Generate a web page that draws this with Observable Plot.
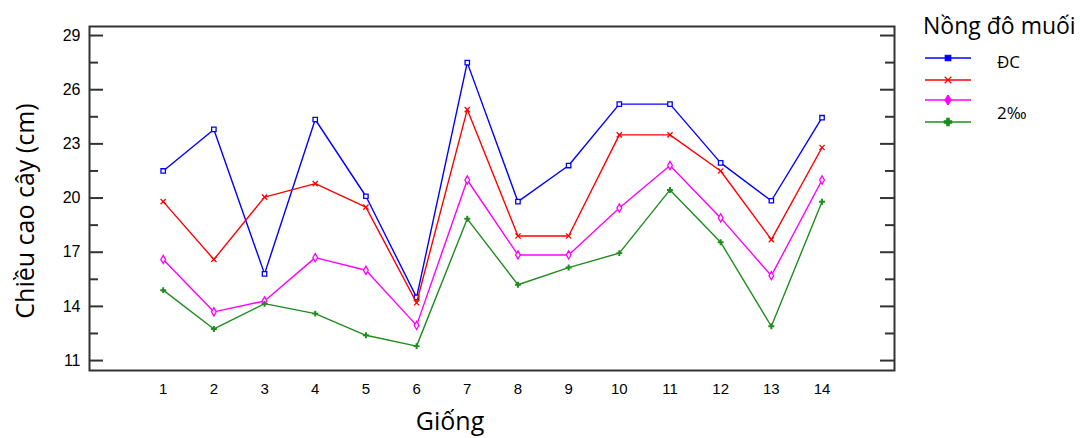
<!DOCTYPE html>
<html><head><meta charset="utf-8">
<script src="https://cdn.jsdelivr.net/npm/d3@7"></script>
<script src="https://cdn.jsdelivr.net/npm/@observablehq/plot@0.6"></script>
<style>
body{margin:0;background:#fff}
#wrap{position:relative;width:1080px;height:438px;overflow:hidden;font-family:"Open Sans",sans-serif;color:#000}
.abs{position:absolute;white-space:nowrap;line-height:1.1}
#ytitle{left:25px;top:211px;font-size:25px;transform:translate(-50%,-50%) rotate(-90deg)}
#xtitle{left:450px;top:421px;font-size:25px;transform:translate(-50%,-50%)}
#ltitle{left:923px;top:13px;font-size:23px}
.lrow{position:absolute;left:924px}
.llab{font-size:17px;transform:translateY(-50%)}
</style>
</head><body><div id="wrap"></div>
<script>
// Data
const giong = [1,2,3,4,5,6,7,8,9,10,11,12,13,14];
const dc    = [21.5,23.8,15.8,24.35,20.1,14.5,27.5,19.8,21.8,25.2,25.2,21.95,19.85,24.45];
const s2    = [19.8,16.6,20.05,20.8,19.5,14.2,24.9,17.9,17.9,23.5,23.5,21.5,17.7,22.8];
const s3    = [16.6,13.7,14.3,16.7,16.0,12.95,21.0,16.85,16.85,19.45,21.8,18.9,15.7,21.0];
const s4    = [14.9,12.75,14.15,13.6,12.4,11.8,18.85,15.2,16.15,16.95,20.45,17.55,12.9,19.8];
const seriesKeys   = ["ĐC","s2","s3","2‰"];
const legendLabels = ["ĐC","","","2‰"];
const legendTitle  = "Nồng đô muối";
const seriesColors = ["#0000ff","#ff0000","#ff00ff","#1e8c1e"];
const seriesSymbols= ["square","times","diamond","cross"];
const yMajor = [11,14,17,20,23,26,29];
const yMinor = [12.5,15.5,18.5,21.5,24.5,27.5];
const xLabel = "Giống";
const yLabel = "Chiều cao cây (cm)";

const values = [dc, s2, s3, s4];
const rows = [];
values.forEach((arr, si) => arr.forEach((v, i) => rows.push({g: giong[i], v, s: si})));

const W = 1080, H = 438, mL = 89, mR = 186, mT = 26, mB = 68;
const innerW = W - mL - mR;
const frameCol = "#333";

const marks = [
  Plot.tickY(yMajor, {y: d => d, insetRight: innerW - 14, stroke: frameCol, strokeWidth: 2}),
  Plot.tickY(yMinor, {y: d => d, insetRight: innerW - 9, stroke: frameCol, strokeWidth: 2}),
  Plot.tickY(yMajor, {y: d => d, insetLeft: innerW - 14, stroke: frameCol, strokeWidth: 2}),
  Plot.tickY(yMinor, {y: d => d, insetLeft: innerW - 9, stroke: frameCol, strokeWidth: 2}),
  Plot.frame({stroke: frameCol, strokeWidth: 2}),
  Plot.axisY({ticks: yMajor, tickSize: 0, tickPadding: 9, label: null, fontSize: 16, stroke: "#000", strokeWidth: 0.25}),
  Plot.axisX({ticks: giong, tickSize: 0, tickPadding: 13, label: null, fontSize: 15, stroke: "#000", strokeWidth: 0.25}),
];
values.forEach((arr, si) => {
  const d = rows.filter(r => r.s === si);
  marks.push(Plot.line(d, {x: "g", y: "v", stroke: seriesColors[si], strokeWidth: 1.4}));
  const sym = seriesSymbols[si];
  const filled = sym === "cross";
  marks.push(Plot.dot(d, {x: "g", y: "v", symbol: () => sym, r: 2.5,
    stroke: filled ? "none" : seriesColors[si], fill: filled ? seriesColors[si] : "white", strokeWidth: 1.3}));
});

const chart = Plot.plot({
  width: W, height: H,
  marginLeft: mL, marginRight: mR, marginTop: mT, marginBottom: mB,
  x: {type: "linear", domain: [-0.454, 15.43]},
  y: {domain: [10.45, 29.5]},
  symbol: {type: "identity"},
  style: {fontFamily: "Liberation Sans, Arial, sans-serif", fontSize: "15px", color: "#000", background: "#fff"},
  marks
});

const wrap = document.getElementById("wrap");
wrap.appendChild(chart);

function addDiv(cls, id, html, styleObj) {
  const el = document.createElement("div");
  el.className = cls; if (id) el.id = id; el.innerHTML = html;
  Object.assign(el.style, styleObj || {});
  wrap.appendChild(el); return el;
}
addDiv("abs", "ytitle", yLabel);
addDiv("abs", "xtitle", xLabel);
addDiv("abs", "ltitle", legendTitle);

// Legend rows
const rowY = [58, 80, 100, 122];
const labelY = [62, null, null, 113];
seriesKeys.forEach((k, i) => {
  const sym = d3.symbol(
    {square: d3.symbolSquare, times: d3.symbolTimes, diamond: d3.symbolDiamond, cross: d3.symbolCross}[seriesSymbols[i]], 30)();
  addDiv("lrow", null,
    `<svg width="48" height="10" style="display:block"><line x1="1" x2="47" y1="5" y2="5" stroke="${seriesColors[i]}" stroke-width="1.6"/>` +
    `<path d="${sym}" transform="translate(24,5)" fill="${seriesColors[i]}" stroke="${seriesColors[i]}" stroke-width="1.2"/></svg>`,
    {top: (rowY[i] - 5) + "px"});
  if (legendLabels[i]) addDiv("abs llab", null, legendLabels[i], {left: "997px", top: labelY[i] + "px"});
});
</script>
</body></html>
